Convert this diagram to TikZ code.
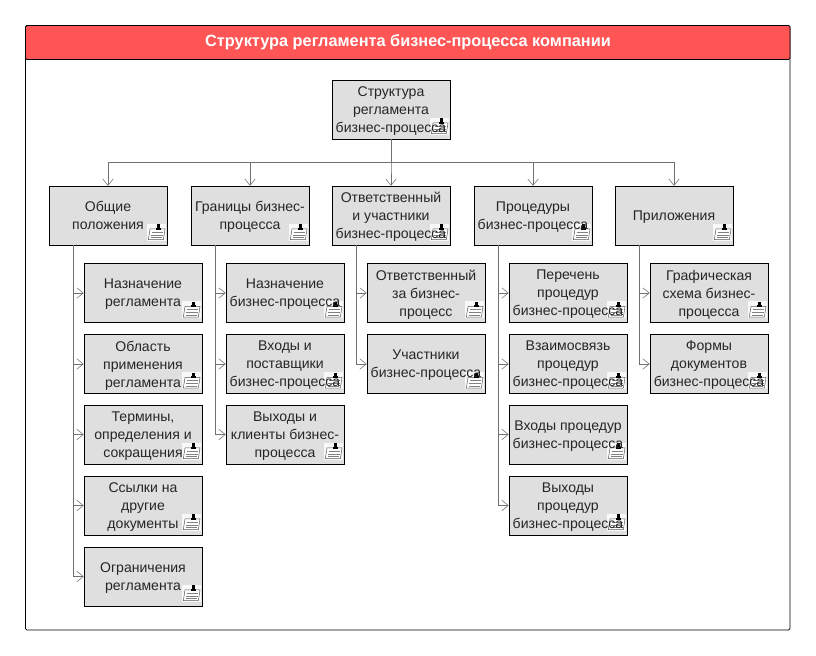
\documentclass[tikz,border=0pt]{standalone}
\usepackage{fontspec}
\setmainfont{Liberation Sans}
\usetikzlibrary{arrows.meta}
\definecolor{blockgray}{HTML}{DFDFDF}
\definecolor{linkgray}{HTML}{707070}
\definecolor{headred}{HTML}{FF5555}
\tikzset{
  block/.style={draw=black, fill=blockgray, minimum width=2.95cm, minimum height=1.47cm, inner sep=0pt, align=center, text depth=0pt, font=\fontsize{10}{12.8}\selectfont, text=black!85,
    path picture={\pic at ([xshift=-0.262cm,yshift=0.275cm]path picture bounding box.south east) {notepic};}},
  link/.style={draw=linkgray, line width=0.6pt},
  linkarrow/.style={link, -{Straight Barb[length=1.6mm,width=2.6mm,line width=0.4pt]}},
  notepic/.pic={
    \fill[white, opacity=0.8] (-9.5,-10) rectangle (9.5,7);
    \draw[fill=white, draw=black!65, line width=0.35pt] (-6.5,-5)--(8.5,-5)--(6.8,5.7)--(-8.2,5.7)--cycle;
    \draw[black!50, line width=0.35pt] (-4.5,-2)--(6.5,-2) (-5.5,1)--(6,1) (-6,3.6)--(5.5,3.6);
    \fill[black] (0.6,-9.5) rectangle (3,-5.5);
    \fill[black] (-0.8,-6) rectangle (4.5,-4);
  }
}
\newcommand{\regblock}[4]{%
  \node[block] (#1) at (#2,#3) {#4};
}
\begin{document}
\begin{tikzpicture}[x=0.025cm,y=-0.025cm]
  \useasboundingbox (0,0) rectangle (816,656);
  \fill[white] (0,0) rectangle (816,656);
  \draw[fill=white, line width=0.6pt, rounded corners=1pt] (25.5,25.5) rectangle (790,630);
  \draw[fill=headred, line width=0.6pt, rounded corners=1pt] (25.5,25.5) rectangle (790,59.5);
  \node[font=\bfseries\fontsize{11.6}{14}\selectfont, text=white] (title) at (408,42) {Структура регламента бизнес-процесса компании};

  % root and top row
  \regblock{root}{391}{109.5}{Структура\\регламента\\бизнес-процесса}
  \regblock{general}{108}{215.5}{Общие\\положения}
  \regblock{bounds}{250}{215.5}{Границы бизнес-\\процесса}
  \regblock{owner}{391}{215.5}{Ответственный\\и участники\\бизнес-процесса}
  \regblock{proc}{533}{215.5}{Процедуры\\бизнес-процесса}
  \regblock{annex}{674}{215.5}{Приложения}

  % first column
  \regblock{purpose}{143}{293}{Назначение\\регламента}
  \regblock{scope}{143}{364}{Область\\применения\\регламента}
  \regblock{terms}{143}{434.5}{Термины,\\определения и\\сокращения}
  \regblock{refs}{143}{505.5}{Ссылки на\\другие\\документы}
  \regblock{limits}{143}{576.5}{Ограничения\\регламента}

  % second column
  \regblock{bpurpose}{285}{293}{Назначение\\бизнес-процесса}
  \regblock{inputs}{285}{364}{Входы и\\поставщики\\бизнес-процесса}
  \regblock{outputs}{285}{434.5}{Выходы и\\клиенты бизнес-\\процесса}

  % third column
  \regblock{resp}{426}{293}{Ответственный\\за бизнес-\\процесс}
  \regblock{members}{426}{364}{Участники\\бизнес-процесса}

  % fourth column
  \regblock{plist}{568}{293}{Перечень\\процедур\\бизнес-процесса}
  \regblock{plink}{568}{364}{Взаимосвязь\\процедур\\бизнес-процесса}
  \regblock{pin}{568}{434.5}{Входы процедур\\бизнес-процесса}
  \regblock{pout}{568}{505.5}{Выходы\\процедур\\бизнес-процесса}

  % fifth column
  \regblock{scheme}{709}{293}{Графическая\\схема бизнес-\\процесса}
  \regblock{forms}{709}{364}{Формы\\документов\\бизнес-процесса}

  % connectors
  \coordinate (bus) at (391,162);
  \foreach \t in {general,bounds,owner,proc,annex}
    \draw[linkarrow] (root.south) -- (bus) -| (\t.north);
  \foreach \p/\c in {general/purpose,general/scope,general/terms,general/refs,general/limits,
                     bounds/bpurpose,bounds/inputs,bounds/outputs,
                     owner/resp,owner/members,
                     proc/plist,proc/plink,proc/pin,proc/pout,
                     annex/scheme,annex/forms}
    \draw[linkarrow] ([xshift=-0.875cm]\p.south) |- (\c.west);
\end{tikzpicture}
\end{document}
